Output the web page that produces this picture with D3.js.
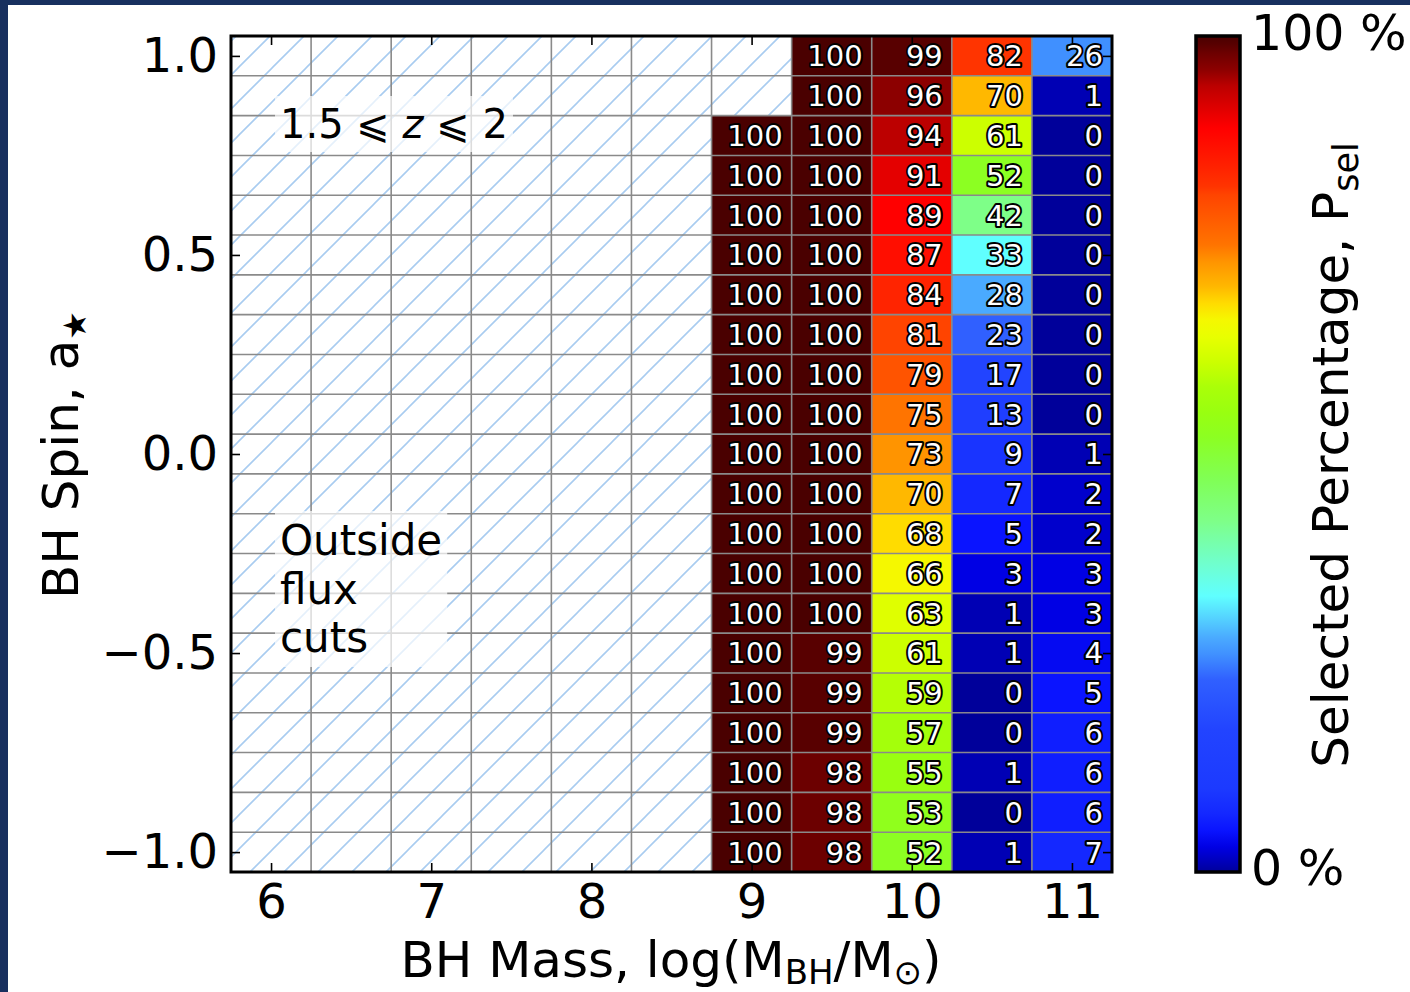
<!DOCTYPE html>
<html>
<head>
<meta charset="utf-8">
<script src="https://cdn.jsdelivr.net/npm/d3@7"></script>
<style>
  html, body { margin: 0; padding: 0; background: #ffffff; }
  svg { display: block; font-family: "DejaVu Sans", "Noto Sans", sans-serif; }
</style>
</head>
<body>
<svg id="chart" width="1410" height="992"></svg>
<script>
// Spin rows, top to bottom
const spins = [1.0, 0.9, 0.8, 0.7, 0.6, 0.5, 0.4, 0.3, 0.2, 0.1, 0.0,
               -0.1, -0.2, -0.3, -0.4, -0.5, -0.6, -0.7, -0.8, -0.9, -1.0];

// Mass columns that hold a selected percentage (log M_BH / M_sun)
const dataMasses = [9, 9.5, 10, 10.5, 11];

// Selected percentage per mass column, listed in spin order (null = no sources)
const pMass9_0  = [null, null, 100, 100, 100, 100, 100, 100, 100, 100, 100,
                   100, 100, 100, 100, 100, 100, 100, 100, 100, 100];
const pMass9_5  = [100, 100, 100, 100, 100, 100, 100, 100, 100, 100, 100,
                   100, 100, 100, 100, 99, 99, 99, 98, 98, 98];
const pMass10_0 = [99, 96, 94, 91, 89, 87, 84, 81, 79, 75, 73,
                   70, 68, 66, 63, 61, 59, 57, 55, 53, 52];
const pMass10_5 = [82, 70, 61, 52, 42, 33, 28, 23, 17, 13, 9,
                   7, 5, 3, 1, 1, 0, 0, 1, 0, 1];
const pMass11_0 = [26, 1, 0, 0, 0, 0, 0, 0, 0, 0, 1,
                   2, 2, 3, 3, 4, 5, 6, 6, 6, 7];
const selPct = [pMass9_0, pMass9_5, pMass10_0, pMass10_5, pMass11_0];

// Axis ticks
const xTicks = [6, 7, 8, 9, 10, 11];
const yTicks = [-1.0, -0.5, 0.0, 0.5, 1.0];

// Colour map for the selected percentage
const cmapStops  = [0, 1, 2, 3, 5, 7, 10, 17, 23, 26, 28, 33, 37, 42, 47, 52, 55, 58,
                    61, 64, 66, 68, 70, 73, 75, 79, 81, 82, 84, 87, 89, 91, 94, 96, 98, 99, 100];
const cmapColors = ["#00009a", "#0000b4", "#0000cc", "#0000e4", "#0a14ff", "#1428ff", "#1c3aff",
                    "#2244ff", "#3060ff", "#4090ff", "#4aaaff", "#60ffff", "#70ffcc", "#7eff88",
                    "#80ff55", "#8cff22", "#99ff10", "#aaff08", "#ccff00", "#e8ff00", "#f5f800",
                    "#ffdc00", "#ffb800", "#ff9400", "#ff7400", "#ff5400", "#ff4400", "#ff3400",
                    "#ff2400", "#ff0e00", "#ff0000", "#e40000", "#bc0000", "#8c0000", "#6c0000",
                    "#580000", "#4a0000"];

const svg = d3.select("#chart");
const W = 1410, H = 992;
const plot = { left: 231, right: 1112, top: 36, bottom: 872 };
const cbar = { left: 1196, right: 1240, top: 36, bottom: 872 };

const x = d3.scaleLinear().domain([5.75, 11.25]).range([plot.left, plot.right]);
const y = d3.scaleLinear().domain([-1.05, 1.05]).range([plot.bottom, plot.top]);
const color = d3.scaleLinear().domain(cmapStops).range(cmapColors).interpolate(d3.interpolateRgb).clamp(true);

// Page frame
svg.append("rect").attr("width", W).attr("height", H).attr("fill", "#ffffff");
svg.append("rect").attr("x", 0).attr("y", 0).attr("width", W).attr("height", 5).attr("fill", "#18305f");
svg.append("rect").attr("x", 0).attr("y", 0).attr("width", 8).attr("height", H).attr("fill", "#18305f");

const defs = svg.append("defs");

// Diagonal hatch for the region outside the flux cuts
const hs = 34;
defs.append("pattern")
  .attr("id", "hatch")
  .attr("patternUnits", "userSpaceOnUse")
  .attr("width", hs).attr("height", hs)
  .append("path")
  .attr("d", `M${-hs / 2},${hs / 2} L${hs / 2},${-hs / 2} M0,${hs} L${hs},0 M${hs / 2},${hs * 1.5} L${hs * 1.5},${hs / 2}`)
  .attr("stroke", "#a9ccf0")
  .attr("stroke-width", 1.6)
  .attr("fill", "none");

const clip = defs.append("clipPath").attr("id", "plotClip");
clip.append("rect")
  .attr("x", plot.left).attr("y", plot.top)
  .attr("width", plot.right - plot.left).attr("height", plot.bottom - plot.top);

const g = svg.append("g");
g.append("rect")
  .attr("x", plot.left).attr("y", plot.top)
  .attr("width", plot.right - plot.left).attr("height", plot.bottom - plot.top)
  .attr("fill", "url(#hatch)");

// Heat-map cells
const cells = [];
dataMasses.forEach((m, i) => {
  spins.forEach((s, j) => {
    const v = selPct[i][j];
    if (v !== null) cells.push({ m, s, v });
  });
});

g.selectAll("rect.cell")
  .data(cells)
  .join("rect")
  .attr("class", "cell")
  .attr("x", d => x(d.m - 0.25))
  .attr("y", d => y(d.s + 0.05))
  .attr("width", d => x(d.m + 0.25) - x(d.m - 0.25))
  .attr("height", d => y(d.s - 0.05) - y(d.s + 0.05))
  .attr("fill", d => color(d.v));

// Grid along cell boundaries
const xEdges = d3.range(12).map(k => 5.75 + 0.5 * k);
const yEdges = d3.range(22).map(k => -1.05 + 0.1 * k);
const grid = g.append("g").attr("clip-path", "url(#plotClip)");
grid.selectAll("line.gx")
  .data(xEdges)
  .join("line")
  .attr("x1", d => x(d)).attr("x2", d => x(d))
  .attr("y1", plot.top).attr("y2", plot.bottom)
  .attr("stroke", "#8a8a8a").attr("stroke-width", 1.6);
grid.selectAll("line.gy")
  .data(yEdges)
  .join("line")
  .attr("x1", plot.left).attr("x2", plot.right)
  .attr("y1", d => y(d)).attr("y2", d => y(d))
  .attr("stroke", "#8a8a8a").attr("stroke-width", 1.6);

// Cell value labels
g.selectAll("text.val")
  .data(cells)
  .join("text")
  .attr("class", "val")
  .attr("x", d => x(d.m + 0.25) - 9)
  .attr("y", d => y(d.s))
  .attr("dy", "0.36em")
  .attr("text-anchor", "end")
  .attr("font-size", 29)
  .attr("fill", "#ffffff")
  .attr("stroke", "#000000")
  .attr("stroke-width", 4)
  .attr("stroke-linejoin", "round")
  .attr("paint-order", "stroke")
  .text(d => d.v);

// Axes: ticks on all four sides, pointing inwards
function styleAxis(sel) {
  sel.select(".domain").remove();
  sel.selectAll(".tick line").attr("stroke", "#000").attr("stroke-width", 1.6);
  sel.selectAll(".tick text").attr("fill", "#000").attr("font-size", 48)
     .attr("font-family", "DejaVu Sans, sans-serif");
}
svg.append("g")
  .attr("transform", `translate(0,${plot.bottom})`)
  .call(d3.axisBottom(x).tickValues(xTicks).tickFormat(d3.format("d"))
        .tickSizeInner(-9).tickSizeOuter(0).tickPadding(12))
  .call(styleAxis);
svg.append("g")
  .attr("transform", `translate(0,${plot.top})`)
  .call(d3.axisTop(x).tickValues(xTicks).tickFormat(() => "")
        .tickSizeInner(-9).tickSizeOuter(0))
  .call(styleAxis);
svg.append("g")
  .attr("transform", `translate(${plot.left},0)`)
  .call(d3.axisLeft(y).tickValues(yTicks).tickFormat(d3.format(".1f"))
        .tickSizeInner(-9).tickSizeOuter(0).tickPadding(13))
  .call(styleAxis);
svg.append("g")
  .attr("transform", `translate(${plot.right},0)`)
  .call(d3.axisRight(y).tickValues(yTicks).tickFormat(() => "")
        .tickSizeInner(-9).tickSizeOuter(0))
  .call(styleAxis);

// Annotations with a translucent white backing
function boxedText(lines, xPos, baselines, size) {
  const grp = svg.append("g");
  const box = grp.append("rect").attr("fill", "#ffffff").attr("fill-opacity", 0.7);
  const txt = grp.append("g");
  lines.forEach((ln, k) => {
    const t = txt.append("text")
      .attr("x", xPos).attr("y", baselines[k])
      .attr("font-size", size).attr("fill", "#000");
    ln.forEach(part => {
      t.append("tspan").attr("font-style", part.italic ? "italic" : "normal").text(part.t);
    });
  });
  const bb = txt.node().getBBox();
  const pad = 5;
  box.attr("x", bb.x - pad).attr("y", bb.y - pad)
     .attr("width", bb.width + 2 * pad).attr("height", bb.height + 2 * pad);
}
boxedText([[{ t: "1.5 \u2A7D " }, { t: "z", italic: true }, { t: " \u2A7D 2" }]], 280, [138], 40);
boxedText([[{ t: "Outside" }], [{ t: "flux" }], [{ t: "cuts" }]], 280, [555, 604, 652], 42);

// Plot frame
svg.append("rect")
  .attr("x", plot.left).attr("y", plot.top)
  .attr("width", plot.right - plot.left).attr("height", plot.bottom - plot.top)
  .attr("fill", "none").attr("stroke", "#000").attr("stroke-width", 3);

// Axis titles
const xTitle = svg.append("text")
  .attr("x", 671).attr("y", 977)
  .attr("text-anchor", "middle").attr("font-size", 50).attr("fill", "#000");
xTitle.append("tspan").text("BH Mass, log(M");
xTitle.append("tspan").attr("font-size", 34).attr("dy", 7).text("BH");
xTitle.append("tspan").attr("dy", -7).text("/M");
xTitle.append("tspan").attr("font-size", 34).attr("dy", 7).text("\u2299");
xTitle.append("tspan").attr("dy", -7).text(")");

const yTitle = svg.append("text")
  .attr("transform", "translate(78,455) rotate(-90)")
  .attr("text-anchor", "middle").attr("font-size", 50).attr("fill", "#000");
yTitle.append("tspan").text("BH Spin, a");
yTitle.append("tspan").attr("font-size", 32).attr("dy", 8).text("\u2605");

// Colour bar
const grad = defs.append("linearGradient")
  .attr("id", "cbarGrad")
  .attr("x1", 0).attr("y1", 1).attr("x2", 0).attr("y2", 0);
grad.selectAll("stop")
  .data(cmapStops)
  .join("stop")
  .attr("offset", d => d / 100)
  .attr("stop-color", d => color(d));

svg.append("rect")
  .attr("x", cbar.left).attr("y", cbar.top)
  .attr("width", cbar.right - cbar.left).attr("height", cbar.bottom - cbar.top)
  .attr("fill", "url(#cbarGrad)")
  .attr("stroke", "#000").attr("stroke-width", 3.5);

svg.append("text").attr("x", 1251).attr("y", 50)
  .attr("font-size", 49).attr("fill", "#000").text("100 %");
svg.append("text").attr("x", 1251).attr("y", 885)
  .attr("font-size", 49).attr("fill", "#000").text("0 %");

const cTitle = svg.append("text")
  .attr("transform", "translate(1348,455) rotate(-90)")
  .attr("text-anchor", "middle").attr("font-size", 50).attr("fill", "#000");
cTitle.append("tspan").text("Selected Percentage, P");
cTitle.append("tspan").attr("font-size", 35).attr("dy", 10).text("sel");
</script>
</body>
</html>
